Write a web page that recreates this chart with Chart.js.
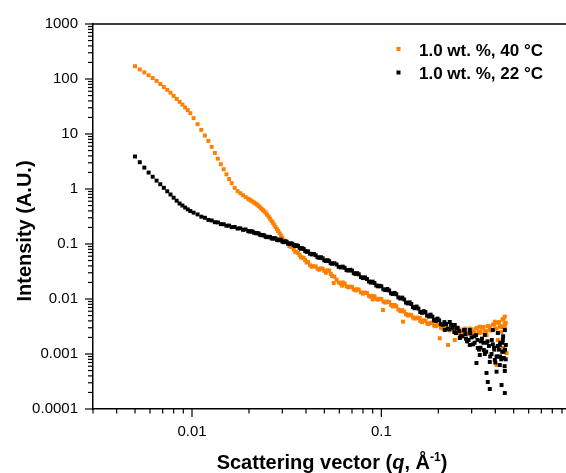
<!DOCTYPE html>
<html>
<head>
<meta charset="utf-8">
<script src="https://cdn.jsdelivr.net/npm/chart.js@4.4.1/dist/chart.umd.min.js"></script>
<style>
  html, body { margin: 0; padding: 0; background: #fff; }
  canvas { display: block; }
</style>
</head>
<body>
<canvas id="saxsChart" width="566" height="473"></canvas>
<script>
// scattering vector q (1/Å), shared by both curves
const qGrid = [
    0.0050, 0.0053, 0.0056, 0.0059, 0.0062, 0.0065, 0.0068, 0.0071, 0.0074, 0.0077, 0.0080, 0.0083, 0.0086, 0.0089, 0.0092, 0.0095, 0.0098,
    0.0102, 0.0107, 0.0112, 0.0117, 0.0122, 0.0127, 0.0132, 0.0137, 0.0142, 0.0147, 0.0152, 0.0157, 0.0162, 0.0168, 0.0174, 0.0180, 0.0186, 0.0192, 0.0198,
    0.0205, 0.0213, 0.0221, 0.0229, 0.0237, 0.0245, 0.0254, 0.0263, 0.0272, 0.0281, 0.0290, 0.0300, 0.0311, 0.0322, 0.0333, 0.0345, 0.0357, 0.0370, 0.0383, 0.0396,
    0.041, 0.043, 0.045, 0.047, 0.049, 0.051, 0.053, 0.055, 0.058, 0.061, 0.064, 0.067, 0.070, 0.073, 0.076, 0.080, 0.084, 0.088, 0.092, 0.096,
    0.100, 0.105, 0.110, 0.115, 0.120, 0.126, 0.132, 0.138, 0.144, 0.150, 0.157, 0.164, 0.171, 0.178, 0.186, 0.194, 0.202, 0.211, 0.220, 0.229,
    0.238, 0.248, 0.258, 0.268, 0.278, 0.289, 0.300, 0.311, 0.322, 0.334, 0.346, 0.358, 0.370, 0.382, 0.394, 0.406, 0.418, 0.430, 0.442, 0.454
];
// in-between q values where the measured points get dense
const qFill = [
    0.0201, 0.0209, 0.0217, 0.0225, 0.0233, 0.0241, 0.0249, 0.0258, 0.0267, 0.0276, 0.0285, 0.0295, 0.0305, 0.0316, 0.0327, 0.0339, 0.0351, 0.0363, 0.0376, 0.0389, 0.0403,
    0.042, 0.044, 0.046, 0.048, 0.050, 0.052, 0.054, 0.0565, 0.0595, 0.0625, 0.0655, 0.0685, 0.0715, 0.0745, 0.078, 0.082, 0.086, 0.090, 0.094, 0.098,
    0.1025, 0.1075, 0.1125, 0.1175, 0.123, 0.129, 0.135, 0.141, 0.147, 0.1535, 0.1605, 0.1675, 0.1745, 0.182, 0.190, 0.198, 0.2065, 0.2155, 0.2245, 0.2335,
    0.243, 0.253, 0.263, 0.273, 0.2835, 0.2945, 0.3055, 0.3165, 0.328, 0.340, 0.352, 0.364, 0.376, 0.388, 0.400, 0.412, 0.424, 0.436, 0.448
];

// 1.0 wt. %, 40 °C
const iOrange = [
    171, 149, 132, 117, 104, 92.4, 81.1, 71.5, 63.6, 56.3, 49.3, 43.5, 38.5, 34.2, 30.4, 27.2, 23.9,
    19.4, 15.1, 11.9, 9.39, 7.49, 5.83, 4.53, 3.56, 2.82, 2.29, 1.85, 1.52, 1.28, 1.05, 0.916, 0.839, 0.771, 0.712, 0.663,
    0.615, 0.566, 0.518, 0.463, 0.413, 0.372, 0.315, 0.265, 0.223, 0.187, 0.157, 0.130, 0.114, 0.101, 0.0897, 0.0794, 0.0704, 0.0631, 0.0568, 0.0512,
    0.0470, 0.0385, 0.0390, 0.0340, 0.0355, 0.0300, 0.0330, 0.0262, 0.0225, 0.0190, 0.0192, 0.0163, 0.0166, 0.0143, 0.0148, 0.0125, 0.0128, 0.0109, 0.0112, 0.0097,
    0.0100, 0.0086, 0.0088, 0.0073, 0.0074, 0.0060, 0.0059, 0.0050, 0.0051, 0.0044, 0.0045, 0.0038, 0.0040, 0.0035, 0.0037, 0.0032, 0.0034, 0.0029, 0.0031, 0.0027,
    0.0029, 0.0025, 0.0028, 0.0024, 0.0029, 0.0023, 0.0028, 0.0024, 0.0030, 0.0025, 0.0031, 0.0026, 0.0032, 0.0027, 0.0035, 0.0029, 0.0038, 0.0031, 0.0044, 0.0037
];
const iOrangeFill = [
    0.640, 0.590, 0.540, 0.490, 0.437, 0.392, 0.342, 0.289, 0.243, 0.204, 0.172, 0.143, 0.116, 0.111, 0.091, 0.088, 0.072, 0.069, 0.057, 0.056, 0.046,
    0.0410, 0.0395, 0.0355, 0.0360, 0.0325, 0.0330, 0.0285, 0.0255, 0.0200, 0.0200, 0.0170, 0.0168, 0.0150, 0.0150, 0.0132, 0.0131, 0.0114, 0.0114, 0.0101, 0.0101,
    0.0090, 0.0090, 0.0078, 0.0078, 0.0064, 0.0063, 0.0053, 0.0052, 0.0046, 0.0046, 0.0040, 0.0041, 0.0036, 0.0037, 0.0033, 0.0034, 0.0030, 0.0031, 0.0028, 0.0029,
    0.0026, 0.0028, 0.0025, 0.0028, 0.0024, 0.0029, 0.0025, 0.0029, 0.0025, 0.0030, 0.0026, 0.0032, 0.0027, 0.0034, 0.0029, 0.0037, 0.0032, 0.0042, 0.0035
];
const qOrangeExtra = [0.2035, 0.2251, 0.406, 0.449, 0.449, 0.3977, 0.4226, 0.374, 0.331, 0.3041, 0.276, 0.2597, 0.331, 0.4585,
    0.102, 0.1301, 0.1595, 0.2443, 0.4124, 0.4384, 0.056, 0.062, 0.090, 0.300, 0.360, 0.430, 0.450];
const iOrangeExtra = [0.00193, 0.00146, 0.00063, 0.00477, 0.00337, 0.00387, 0.00314, 0.00293, 0.00314, 0.00254, 0.00254, 0.00222, 0.00241, 0.00104,
    0.00631, 0.00387, 0.00452, 0.0018, 0.0018, 0.00129, 0.0195, 0.0175, 0.0098, 0.0021, 0.0022, 0.0025, 0.0029];

// 1.0 wt. %, 22 °C
const iBlack = [
    3.90, 3.07, 2.45, 1.99, 1.67, 1.42, 1.22, 1.05, 0.908, 0.794, 0.695, 0.613, 0.545, 0.501, 0.461, 0.426, 0.398,
    0.371, 0.345, 0.314, 0.300, 0.274, 0.268, 0.249, 0.247, 0.230, 0.229, 0.215, 0.216, 0.203, 0.204, 0.191, 0.193, 0.181, 0.184, 0.172,
    0.171, 0.160, 0.158, 0.147, 0.146, 0.135, 0.135, 0.127, 0.128, 0.119, 0.121, 0.111, 0.112, 0.102, 0.103, 0.095, 0.095, 0.085, 0.084, 0.075,
    0.0735, 0.0645, 0.0625, 0.0560, 0.0550, 0.0490, 0.0488, 0.0437, 0.0425, 0.0375, 0.0370, 0.0329, 0.0328, 0.0286, 0.0281, 0.0240, 0.0231, 0.0199, 0.0195, 0.0170,
    0.0170, 0.0145, 0.0143, 0.0123, 0.0122, 0.0102, 0.0098, 0.0083, 0.0081, 0.0068, 0.0067, 0.0056, 0.0057, 0.0048, 0.0048, 0.0040, 0.0041, 0.0034, 0.0035, 0.0028,
    0.0030, 0.0024, 0.0026, 0.0021, 0.0023, 0.0018, 0.0020, 0.0016, 0.0018, 0.0013, 0.0016, 0.0011, 0.0014, 0.0010, 0.0013, 0.0009, 0.0012, 0.0008, 0.0011, 0.0008
];
const iBlackFill = [
    0.168, 0.168, 0.157, 0.155, 0.144, 0.143, 0.133, 0.134, 0.125, 0.126, 0.117, 0.118, 0.108, 0.109, 0.100, 0.101, 0.092, 0.092, 0.082, 0.081, 0.072,
    0.0665, 0.0660, 0.0575, 0.0575, 0.0505, 0.0508, 0.0448, 0.0447, 0.0385, 0.0388, 0.0335, 0.0340, 0.0295, 0.0295, 0.0250, 0.0248, 0.0208, 0.0207, 0.0176, 0.0174,
    0.0150, 0.0152, 0.0127, 0.0129, 0.0107, 0.0106, 0.0086, 0.0087, 0.0071, 0.0073, 0.0058, 0.0060, 0.0050, 0.0052, 0.0042, 0.0044, 0.0035, 0.0038, 0.0029, 0.0034,
    0.0025, 0.0030, 0.0021, 0.0027, 0.0017, 0.0024, 0.0015, 0.0022, 0.0012, 0.0019, 0.0010, 0.0017, 0.0009, 0.0015, 0.0007, 0.0014, 0.0009, 0.0016, 0.0006
];
const qBlackExtra = [0.365, 0.374, 0.4315, 0.449, 0.406, 0.449, 0.318, 0.3594, 0.2933, 0.331, 0.3977, 0.4226, 0.4384, 0.4124, 0.352,
    0.3834, 0.449, 0.2597, 0.276, 0.2299, 0.2163, 0.4226, 0.3478, 0.4546, 0.374, 0.3232, 0.444, 0.388, 0.2933, 0.2443,
    0.170, 0.190, 0.250, 0.280, 0.310, 0.335, 0.360, 0.395, 0.410, 0.435, 0.450, 0.425, 0.440];
const iBlackExtra = [0.00031, 0.000231, 0.000273, 0.000195, 0.000477, 0.000491, 0.000686, 0.000452, 0.00146, 0.00096, 0.000778, 0.00146, 0.0018, 0.00241, 0.00222,
    0.0018, 0.00273, 0.00195, 0.00273, 0.00382, 0.00273, 0.00063, 0.00118, 0.00146, 0.000716, 0.00129, 0.000846, 0.00273, 0.00273, 0.00337,
    0.0058, 0.0041, 0.0029, 0.0019, 0.0021, 0.0017, 0.0016, 0.0012, 0.0009, 0.0011, 0.0012, 0.0016, 0.0021];

// labelled decades on the axes
const xMajorTicks = [0.01, 0.1];
const xTickLabels = ['0.01', '0.1'];
const yMajorTicks = [0.0001, 0.001, 0.01, 0.1, 1, 10, 100, 1000];
const yTickLabels = ['0.0001', '0.001', '0.01', '0.1', '1', '10', '100', '1000'];

const seriesNames = ['1.0 wt. %, 40 °C', '1.0 wt. %, 22 °C'];
const seriesColors = ['#ff7f00', '#000000'];

const FONT = '"Liberation Sans", Arial, sans-serif';

function toPoints(qs, is) {
    return qs.map((q, i) => ({ x: q, y: is[i] }));
}

// minor + major tick positions for a log axis
function logTicks(min, max) {
    const out = [];
    for (let e = Math.floor(Math.log10(min)); e <= Math.ceil(Math.log10(max)); e++) {
        for (let m = 1; m <= 9; m++) {
            const v = parseFloat((m * Math.pow(10, e)).toPrecision(6));
            if (v >= min * 0.999 && v <= max * 1.001) out.push(v);
        }
    }
    return out;
}

function findLabel(v, majors, labels) {
    const i = majors.findIndex(t => Math.abs(Math.log10(t) - Math.log10(v)) < 1e-6);
    return i >= 0 ? labels[i] : '';
}

const X_MIN = 0.003, X_MAX = 0.945, Y_MIN = 0.0001, Y_MAX = 1000;
const xAllTicks = logTicks(X_MIN, X_MAX);
const yAllTicks = logTicks(Y_MIN, Y_MAX);

// ticks, top frame line, axis titles and legend
const decorPlugin = {
    id: 'decor',
    afterDraw(chart) {
        const { ctx, chartArea: a, scales: { x, y } } = chart;
        ctx.save();
        ctx.strokeStyle = '#000';
        ctx.fillStyle = '#000';

        ctx.lineWidth = 1.5;
        ctx.beginPath();
        ctx.moveTo(a.left, a.top);
        ctx.lineTo(chart.width, a.top);
        ctx.stroke();

        ctx.lineWidth = 1.2;
        xAllTicks.forEach(v => {
            const p = x.getPixelForValue(v);
            const len = findLabel(v, xMajorTicks, xTickLabels) ? 8 : 4.5;
            ctx.beginPath();
            ctx.moveTo(p, a.bottom);
            ctx.lineTo(p, a.bottom + len);
            ctx.stroke();
        });
        yAllTicks.forEach(v => {
            const p = y.getPixelForValue(v);
            const len = findLabel(v, yMajorTicks, yTickLabels) ? 8 : 5;
            ctx.beginPath();
            ctx.moveTo(a.left, p);
            ctx.lineTo(a.left - len, p);
            ctx.stroke();
        });

        // x title with italic q and superscript -1
        const parts = [
            { t: 'Scattering vector (', f: 'bold 20px ' + FONT, dy: 0 },
            { t: 'q', f: 'italic bold 20px ' + FONT, dy: 0 },
            { t: ', Å', f: 'bold 20px ' + FONT, dy: 0 },
            { t: '-1', f: 'bold 12px ' + FONT, dy: -8 },
            { t: ')', f: 'bold 20px ' + FONT, dy: 0 }
        ];
        let total = 0;
        parts.forEach(p => { ctx.font = p.f; p.w = ctx.measureText(p.t).width; total += p.w; });
        let cx = 332 - total / 2;
        ctx.textBaseline = 'alphabetic';
        ctx.textAlign = 'left';
        parts.forEach(p => { ctx.font = p.f; ctx.fillText(p.t, cx, 469 + p.dy); cx += p.w; });

        // y title
        ctx.save();
        ctx.translate(31, 231);
        ctx.rotate(-Math.PI / 2);
        ctx.font = 'bold 20px ' + FONT;
        ctx.textAlign = 'center';
        ctx.fillText('Intensity (A.U.)', 0, 0);
        ctx.restore();

        // legend
        ctx.font = 'bold 17px ' + FONT;
        ctx.textAlign = 'left';
        seriesNames.forEach((name, i) => {
            const base = 55.5 + i * 23.5;
            ctx.fillStyle = seriesColors[i];
            ctx.fillRect(396.5, base - 8.5, 4, 4);
            ctx.fillStyle = '#000';
            ctx.fillText(name, 419, base);
        });
        ctx.restore();
    }
};

const pointStyleOpts = {
    pointStyle: 'rect',
    pointRadius: 2.8,
    pointBorderWidth: 0,
    showLine: false
};

const ctx = document.getElementById('saxsChart').getContext('2d');
new Chart(ctx, {
    type: 'scatter',
    data: {
        datasets: [
            Object.assign({
                label: seriesNames[1],
                data: toPoints(qGrid, iBlack).concat(toPoints(qFill, iBlackFill), toPoints(qBlackExtra, iBlackExtra)),
                pointBackgroundColor: seriesColors[1]
            }, pointStyleOpts),
            Object.assign({
                label: seriesNames[0],
                data: toPoints(qGrid, iOrange).concat(toPoints(qFill, iOrangeFill), toPoints(qOrangeExtra, iOrangeExtra)),
                pointBackgroundColor: seriesColors[0]
            }, pointStyleOpts)
        ]
    },
    options: {
        responsive: false,
        animation: false,
        events: [],
        layout: { autoPadding: false, padding: { top: 24, right: 0, left: 0, bottom: 0 } },
        plugins: {
            legend: { display: false },
            tooltip: { enabled: false }
        },
        scales: {
            x: {
                type: 'logarithmic',
                min: X_MIN,
                max: X_MAX,
                afterFit: s => { s.height = 64; s.paddingLeft = 0; s.paddingRight = 0; },
                afterBuildTicks: s => { s.ticks = xAllTicks.map(v => ({ value: v })); },
                grid: { display: false, drawTicks: false },
                border: { display: true, color: '#000', width: 1.5 },
                ticks: {
                    autoSkip: false,
                    maxRotation: 0,
                    padding: 14,
                    color: '#000',
                    font: { family: FONT, size: 15 },
                    callback: v => findLabel(v, xMajorTicks, xTickLabels)
                }
            },
            y: {
                type: 'logarithmic',
                min: Y_MIN,
                max: Y_MAX,
                afterFit: s => { s.width = 93; },
                afterBuildTicks: s => { s.ticks = yAllTicks.map(v => ({ value: v })); },
                grid: { display: false, drawTicks: false },
                border: { display: true, color: '#000', width: 1.5 },
                ticks: {
                    autoSkip: false,
                    padding: 15,
                    color: '#000',
                    font: { family: FONT, size: 15 },
                    callback: v => findLabel(v, yMajorTicks, yTickLabels)
                }
            }
        }
    },
    plugins: [decorPlugin]
});
</script>
</body>
</html>
